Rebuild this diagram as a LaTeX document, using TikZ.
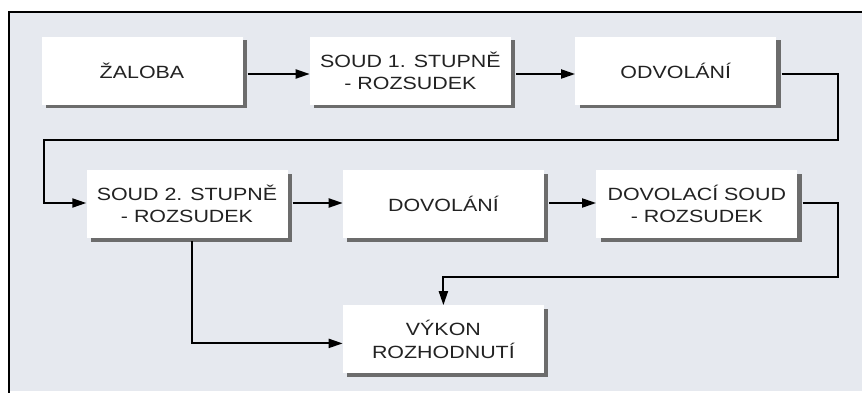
\documentclass[tikz,border=0pt]{standalone}
\usepackage{fontspec}
\setmainfont{Liberation Sans}
\newfontfamily\boxfont[FakeStretch=1.21]{Liberation Sans}
\usetikzlibrary{positioning,arrows.meta,shadows}
\definecolor{panelgray}{RGB}{230,233,239}
\definecolor{shadegray}{RGB}{108,108,108}
\definecolor{inkgray}{RGB}{34,34,34}

\begin{document}
\begin{tikzpicture}[x=1pt,y=-1pt,
  stage/.style={rectangle,fill=white,minimum width=201pt,minimum height=68pt,inner sep=0pt,
    align=center,text=inkgray,font=\boxfont\fontsize{17.7}{22.7}\selectfont,
    drop shadow={shadow xshift=4.5pt,shadow yshift=-3.5pt,fill=shadegray,opacity=1}},
  flow/.style={line width=2pt,-{Triangle[length=14pt,width=9pt]}}]
\useasboundingbox (0,0) rectangle (862,393);
\fill[panelgray] (9,12) rectangle (862,391);
\draw[line width=2pt] (9,393) -- (9,12) -- (862,12);

\node[stage] (zaloba) at (142,71) {ŽALOBA};
\node[stage,right=67pt of zaloba] (soud1) {SOUD 1. STUPNĚ\\- ROZSUDEK};
\node[stage,right=64pt of soud1] (odvolani) {ODVOLÁNÍ};
\node[stage] (soud2) at (187,204) {SOUD 2. STUPNĚ\\- ROZSUDEK};
\node[stage,right=55pt of soud2] (dovolani) {DOVOLÁNÍ};
\node[stage,right=52pt of dovolani] (dovsoud) {DOVOLACÍ SOUD\\- ROZSUDEK};
\node[stage,below=67pt of dovolani] (vykon) {VÝKON\\ROZHODNUTÍ};

\coordinate (bendA) at (838,140);
\coordinate (bendB) at (44,140);
\coordinate (bendC) at (838,277);

\draw[flow] ([xshift=5pt,yshift=-3pt]zaloba.east) -- ([yshift=-3pt]soud1.west);
\draw[flow] ([xshift=5pt,yshift=-3pt]soud1.east) -- ([yshift=-3pt]odvolani.west);
\draw[flow] ([xshift=5pt,yshift=-3pt]odvolani.east) -| (bendA) -- (bendB) |- ([yshift=1pt]soud2.west);
\draw[flow] ([xshift=5pt,yshift=1pt]soud2.east) -- ([yshift=1pt]dovolani.west);
\draw[flow] ([xshift=5pt,yshift=1pt]dovolani.east) -- ([yshift=1pt]dovsoud.west);
\draw[flow] ([xshift=5pt,yshift=1pt]dovsoud.east) -| (bendC) -| (vykon.north);
\draw[flow] ([xshift=5pt,yshift=-3pt]soud2.south) |- ([yshift=-4pt]vykon.west);
\end{tikzpicture}
\end{document}
